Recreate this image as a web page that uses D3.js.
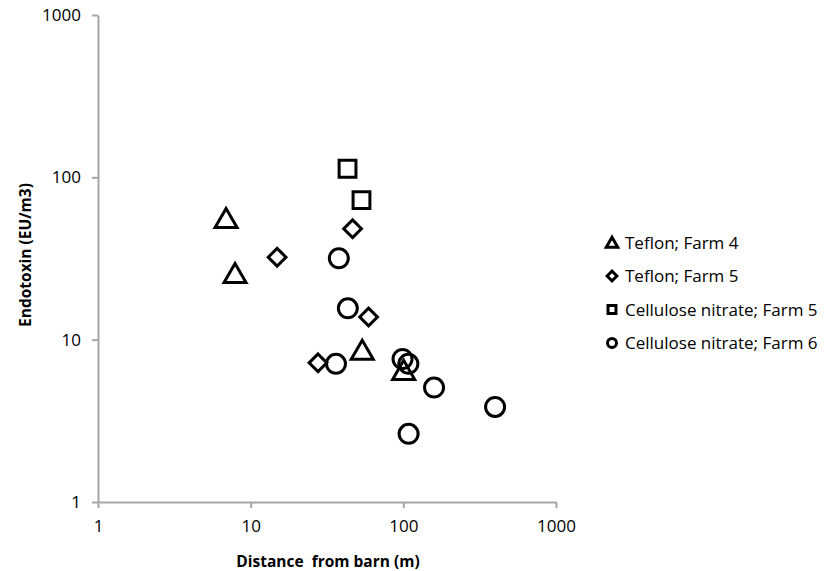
<!DOCTYPE html>
<html>
<head>
<meta charset="UTF-8">
<title>Endotoxin vs distance</title>
<script src="https://d3js.org/d3.v7.min.js"></script>
<style>
  body { margin: 0; background: #fff; }
  svg { display: block; font-family: "Open Sans", Lato, sans-serif; }
  .axis path, .axis line { stroke: #a6a6a6; stroke-width: 2px; }
  .axis text { font-size: 17px; fill: #000; font-family: "Open Sans", sans-serif; }
  .title { font-size: 15.5px; font-weight: bold; }
  .legend text { font-size: 17px; }
</style>
</head>
<body>
<svg width="825" height="571"></svg>
<script>
// series, [distance m, endotoxin EU/m3]
const teflonFarm4 = [[6.9, 56], [7.9, 25.7], [53.8, 8.65], [100.5, 6.5]];
const teflonFarm5 = [[14.9, 32.2], [46.5, 48.2], [59.2, 13.8], [27.6, 7.2]];
const celluloseFarm5 = [[43.1, 113], [53.2, 72.4]];
const celluloseFarm6 = [[37.8, 31.7], [43.3, 15.6], [36.2, 7.1], [98.8, 7.6], [107.9, 7.1],
                        [158.9, 5.07], [399, 3.85], [108.3, 2.63]];

const seriesNames = ["Teflon; Farm 4", "Teflon; Farm 5", "Cellulose nitrate; Farm 5", "Cellulose nitrate; Farm 6"];
const xTicks = [1, 10, 100, 1000];
const yTicks = [1, 10, 100, 1000];

const series = [
  { name: seriesNames[0], data: teflonFarm4, symbol: d3.symbolTriangle },
  { name: seriesNames[1], data: teflonFarm5, symbol: d3.symbolDiamond2 },
  { name: seriesNames[2], data: celluloseFarm5, symbol: d3.symbolSquare2 },
  { name: seriesNames[3], data: celluloseFarm6, symbol: d3.symbolCircle }
];

const svg = d3.select("svg");

const x = d3.scaleLog().domain([1, 1000]).range([98, 556]);
const y = d3.scaleLog().domain([1, 1000]).range([502, 15]);

svg.append("g")
  .attr("class", "axis")
  .attr("transform", "translate(0,502)")
  .call(d3.axisBottom(x).tickValues(xTicks).tickFormat(d3.format("d")).tickSize(6).tickSizeOuter(0).tickPadding(12));

svg.append("g")
  .attr("class", "axis")
  .attr("transform", "translate(98,0)")
  .call(d3.axisLeft(y).tickValues(yTicks).tickFormat(d3.format("d")).tickSize(6).tickSizeOuter(0).tickPadding(11));

// axis titles
svg.append("text").attr("class", "title")
  .attr("x", 328).attr("y", 567).attr("text-anchor", "middle")
  .attr("xml:space", "preserve")
  .text("Distance  from barn (m)");

svg.append("text").attr("class", "title")
  .attr("transform", "translate(31,255) rotate(-90)")
  .attr("text-anchor", "middle")
  .text("Endotoxin (EU/m3)");

// sizePx is the marker's bounding width
function symbolPath(sym, sizePx) {
  let area;
  if (sym === d3.symbolCircle) area = Math.PI * (sizePx / 2) ** 2;
  else if (sym === d3.symbolSquare2) area = sizePx * sizePx;
  else if (sym === d3.symbolDiamond2) area = sizePx * sizePx / 2;
  else area = sizePx * sizePx * Math.sqrt(3) / 4;
  return d3.symbol(sym, area)();
}

const plot = svg.append("g");
series.forEach(s => {
  const size = s.symbol === d3.symbolTriangle ? 22 : s.symbol === d3.symbolDiamond2 ? 20 : 19;
  plot.append("g").selectAll("path")
    .data(s.data)
    .join("path")
    .attr("d", symbolPath(s.symbol, size))
    .attr("transform", d => {
      const dy = s.symbol === d3.symbolTriangle ? 3 : 0;
      return `translate(${x(d[0])},${y(d[1]) + dy})`;
    })
    .attr("fill", "none")
    .attr("stroke", "#000")
    .attr("stroke-width", 3);
});

// legend
const legend = svg.append("g").attr("class", "legend");
series.forEach((s, i) => {
  const cy = 242.5 + i * 33.5;
  const size = s.symbol === d3.symbolTriangle ? 11.5 : s.symbol === d3.symbolDiamond2 ? 11 : 9;
  legend.append("path")
    .attr("d", symbolPath(s.symbol, size))
    .attr("transform", `translate(612,${cy + (s.symbol === d3.symbolTriangle ? 1.5 : 0)})`)
    .attr("fill", "none")
    .attr("stroke", "#000")
    .attr("stroke-width", 3);
  legend.append("text")
    .attr("x", 625).attr("y", cy + 6)
    .text(s.name);
});
</script>
</body>
</html>
